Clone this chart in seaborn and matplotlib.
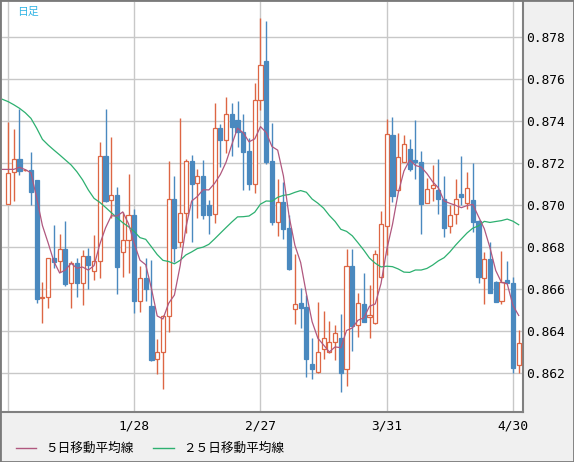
import matplotlib
matplotlib.use("Agg")
import matplotlib.pyplot as plt
from matplotlib.lines import Line2D
from matplotlib.patches import Rectangle
import seaborn as sns
import numpy as np
import pandas as pd

# daily candles, 2024-12-27 .. 2025-05-01 (business days)
opens = [0.87005, 0.87157, 0.87219, 0.87167, 0.87168, 0.87121, 0.86557, 0.86562, 0.86748, 0.86733,
         0.86790, 0.86629, 0.86724, 0.86632, 0.86759, 0.86689, 0.86733, 0.87235, 0.87024, 0.87049,
         0.86776, 0.86835, 0.86952, 0.86546, 0.86654, 0.86521, 0.86267, 0.86300, 0.86473, 0.87029,
         0.86824, 0.86962, 0.87211, 0.87105, 0.87140, 0.87002, 0.86957, 0.87367, 0.87313, 0.87433,
         0.87406, 0.87348, 0.87259, 0.87100, 0.87502, 0.87687, 0.87211, 0.86922, 0.87014, 0.86891,
         0.86505, 0.86533, 0.86517, 0.86243, 0.86208, 0.86317, 0.86300, 0.86348, 0.86367, 0.86219,
         0.86711, 0.86429, 0.86529, 0.86467, 0.86438, 0.86657, 0.86903, 0.87333, 0.87071, 0.87208,
         0.87267, 0.87216, 0.87206, 0.87010, 0.87081, 0.87073, 0.87030, 0.86900, 0.86957, 0.87054,
         0.87013, 0.87025, 0.86927, 0.86652, 0.86743, 0.86635, 0.86546, 0.86644, 0.86630, 0.86240]
highs = [0.87397, 0.87363, 0.87459, 0.87175, 0.87254, 0.87122, 0.86635, 0.86748, 0.86906, 0.86863,
         0.86925, 0.86735, 0.86748, 0.86787, 0.86798, 0.86859, 0.87303, 0.87459, 0.87325, 0.87087,
         0.86970, 0.87149, 0.86983, 0.86711, 0.86749, 0.86740, 0.86362, 0.86476, 0.87211, 0.87140,
         0.87416, 0.87219, 0.87240, 0.87171, 0.87216, 0.87025, 0.87487, 0.87386, 0.87514, 0.87487,
         0.87497, 0.87433, 0.87321, 0.87581, 0.87894, 0.87878, 0.87390, 0.87124, 0.87110, 0.86952,
         0.86767, 0.86605, 0.86573, 0.86367, 0.86538, 0.86497, 0.86449, 0.86432, 0.86483, 0.86790,
         0.86790, 0.86584, 0.86676, 0.86621, 0.86787, 0.86973, 0.87410, 0.87421, 0.87346, 0.87335,
         0.87316, 0.87405, 0.87259, 0.87132, 0.87192, 0.87221, 0.87140, 0.87000, 0.87125, 0.87237,
         0.87157, 0.87203, 0.86930, 0.86776, 0.86825, 0.86638, 0.86781, 0.86733, 0.86657, 0.86406]
lows = [0.87005, 0.87021, 0.87144, 0.87162, 0.87002, 0.86537, 0.86441, 0.86513, 0.86700, 0.86684,
        0.86617, 0.86513, 0.86565, 0.86527, 0.86602, 0.86646, 0.86656, 0.87017, 0.86938, 0.86579,
        0.86660, 0.86679, 0.86489, 0.86494, 0.86546, 0.86260, 0.86195, 0.86124, 0.86398, 0.86729,
        0.86800, 0.86867, 0.86827, 0.86941, 0.86935, 0.86864, 0.86914, 0.87184, 0.87248, 0.87237,
        0.87276, 0.87073, 0.87073, 0.87060, 0.87454, 0.87195, 0.86906, 0.86856, 0.86840, 0.86692,
        0.86435, 0.86417, 0.86184, 0.86173, 0.86200, 0.86270, 0.86295, 0.86264, 0.86113, 0.86141,
        0.86308, 0.86375, 0.86443, 0.86367, 0.86435, 0.86654, 0.86763, 0.87017, 0.87068, 0.87208,
        0.87162, 0.87124, 0.86862, 0.87010, 0.87021, 0.86960, 0.86848, 0.86867, 0.86910, 0.87002,
        0.86981, 0.86875, 0.86632, 0.86532, 0.86581, 0.86538, 0.86532, 0.86629, 0.86200, 0.86200]
closes = [0.87156, 0.87219, 0.87165, 0.87170, 0.87065, 0.86554, 0.86564, 0.86748, 0.86732, 0.86790,
          0.86625, 0.86724, 0.86632, 0.86759, 0.86717, 0.86733, 0.87233, 0.87021, 0.87048, 0.86708,
          0.86833, 0.86952, 0.86546, 0.86654, 0.86600, 0.86264, 0.86302, 0.86473, 0.87029, 0.86795,
          0.86962, 0.87211, 0.87103, 0.87140, 0.86956, 0.86956, 0.87367, 0.87313, 0.87433, 0.87375,
          0.87348, 0.87256, 0.87100, 0.87502, 0.87667, 0.87208, 0.86922, 0.87014, 0.86887, 0.86695,
          0.86529, 0.86513, 0.86270, 0.86221, 0.86302, 0.86367, 0.86348, 0.86390, 0.86203, 0.86711,
          0.86427, 0.86533, 0.86446, 0.86478, 0.86767, 0.86910, 0.87340, 0.87046, 0.87229, 0.87290,
          0.87175, 0.87208, 0.87008, 0.87076, 0.87095, 0.87030, 0.86894, 0.86952, 0.87029, 0.87038,
          0.87081, 0.86922, 0.86660, 0.86743, 0.86581, 0.86541, 0.86637, 0.86629, 0.86227, 0.86343]

ma5_head = [0.87171, 0.87171, 0.87171, 0.87181, 0.87170]          # day -1 .. 3
ma25_head = [0.87505, 0.87494, 0.87479, 0.87462, 0.87441, 0.87414, 0.87367, 0.87314, 0.87287,
             0.87263, 0.87240, 0.87216, 0.87192, 0.87160, 0.87121, 0.87073, 0.87033, 0.87014,
             0.86990, 0.86965, 0.86941, 0.86917, 0.86898, 0.86875, 0.86846]  # day -1 .. 23

tick_dates = ["2024-12-27", "2025-01-28", "2025-02-27", "2025-03-31", "2025-04-30"]
tick_labels = ["", "1/28", "2/27", "3/31", "4/30"]

dates = pd.bdate_range("2024-12-27", periods=len(closes))
df = pd.DataFrame({"open": opens, "high": highs, "low": lows, "close": closes})
df["i"] = np.arange(len(df))
df["up"] = df["close"] >= df["open"]

roll5 = df["close"].rolling(5).mean()
roll25 = df["close"].rolling(25).mean()
ma5 = pd.DataFrame({"i": np.arange(-1, len(df)),
                    "v": ma5_head + list(roll5.iloc[4:])})
ma25 = pd.DataFrame({"i": np.arange(-1, len(df)),
                     "v": ma25_head + list(roll25.iloc[24:])})

RED = "#dd6644"
BLUE = "#4a89bf"
PINK = "#b0587f"
GREEN = "#2db070"

plt.rcParams["font.family"] = ["DejaVu Sans Mono", "Noto Sans CJK JP"]

fig = plt.figure(figsize=(5.74, 4.62), dpi=100, facecolor="#f0f0f0")
ax = fig.add_axes([2 / 574, 50 / 462, 521 / 574, 410 / 462])
ax.set_facecolor("white")

# wicks then bodies
for up, col in [(True, RED), (False, BLUE)]:
    d = df[df["up"] == up]
    ax.vlines(d["i"], d["low"], d["high"], color=col, linewidth=1.0, zorder=2)
    body_h = (d["close"] - d["open"]).abs().clip(lower=0.00003)
    body_b = d[["open", "close"]].min(axis=1)
    ax.bar(d["i"], body_h, bottom=body_b, width=0.72,
           facecolor="white" if up else col, edgecolor=col, linewidth=0.9, zorder=3)

sns.lineplot(data=ma25, x="i", y="v", ax=ax, color=GREEN, linewidth=0.9, zorder=4)
sns.lineplot(data=ma5, x="i", y="v", ax=ax, color=PINK, linewidth=0.9, zorder=5)

ax.set_xlim(-1.046, 89.75)
ax.set_ylim(0.860157, 0.879681)
ax.set_xlabel("")
ax.set_ylabel("")

xt = [dates.get_loc(pd.Timestamp(t)) for t in tick_dates]
ax.set_xticks(xt)
ax.set_xticklabels(tick_labels, fontsize=9.3)
yt = np.arange(0.862, 0.8785, 0.002)
ax.set_yticks(yt)
ax.set_yticklabels([f"{v:.3f}" for v in yt], fontsize=9.3)
ax.yaxis.tick_right()
ax.tick_params(axis="both", length=0, colors="black")
ax.tick_params(axis="x", pad=5.5)
ax.tick_params(axis="y", pad=2)
ax.grid(True, color="#c8c8c8", linewidth=1.0)
ax.set_axisbelow(True)
for s in ["top", "left"]:
    ax.spines[s].set_visible(False)
for s in ["right", "bottom"]:
    ax.spines[s].set_color("#808080")
    ax.spines[s].set_linewidth(1.5)

fig.text(17 / 574, 1 - 11.5 / 462, "日足", color="#33b5e5", fontsize=7.8,
         va="center", ha="left", family=["Noto Sans CJK JP"])

# legend along the bottom
ly = 1 - 448 / 462
fig.add_artist(Line2D([16 / 574, 36 / 574], [ly, ly], color=PINK, linewidth=1.0))
fig.text(45 / 574, ly, "５日移動平均線", fontsize=9.1, va="center", ha="left",
         family=["Noto Sans CJK JP"])
fig.add_artist(Line2D([153 / 574, 174 / 574], [ly, ly], color=GREEN, linewidth=1.0))
fig.text(183 / 574, ly, "２５日移動平均線", fontsize=9.1, va="center", ha="left",
         family=["Noto Sans CJK JP"])

fig.add_artist(Rectangle((0, 0), 1, 1, transform=fig.transFigure, fill=False,
                         edgecolor="#7a7a7a", linewidth=2.0))

fig.savefig("out.png", dpi=100, facecolor=fig.get_facecolor())
